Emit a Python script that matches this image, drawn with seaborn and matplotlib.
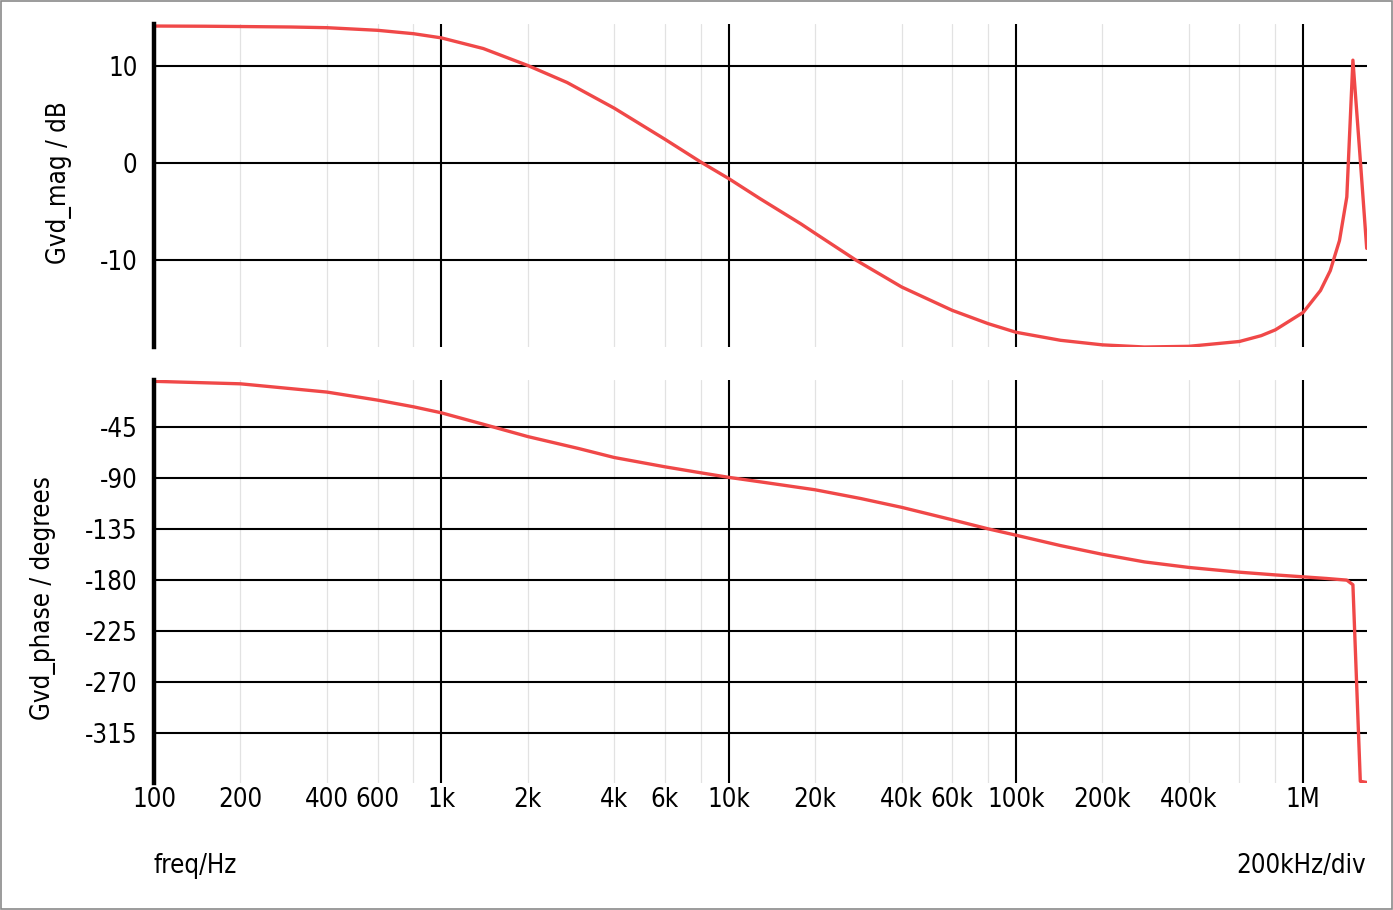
import numpy as np
import pandas as pd
import matplotlib
matplotlib.use("Agg")
import matplotlib.pyplot as plt
import matplotlib.ticker as mticker
import seaborn as sns

# ---- data ----
mag_freq_hz = [100, 150, 200, 300, 400, 600, 800, 1000, 1400, 2000, 2740, 4000, 6000, 8000,
               10e3, 12.9e3, 17.9e3, 20e3, 27.7e3, 40e3, 60e3, 80e3, 100e3, 143e3, 200e3,
               280e3, 400e3, 600e3, 714e3, 800e3, 1.0e6, 1.148e6, 1.242e6, 1.273e6,
               1.337e6, 1.418e6, 1.489e6, 1.58e6, 1.663e6]
mag_db = [14.12, 14.1, 14.07, 14.02, 13.95, 13.68, 13.33, 12.9, 11.8, 10.05, 8.3, 5.65, 2.45, 0.1,
          -1.6, -3.7, -6.3, -7.25, -10.0, -12.78, -15.19, -16.56, -17.45, -18.28, -18.75,
          -18.97, -18.9, -18.4, -17.8, -17.2, -15.4, -13.15, -11.1, -10.05,
          -8.0, -3.5, 10.6, 0.3, -8.8]

phase_freq_hz = [100, 200, 400, 600, 800, 1000, 1530, 2000, 3000, 4000, 6000, 8000,
                 10e3, 12.9e3, 20e3, 28.8e3, 40e3, 60e3, 80e3, 100e3, 143e3, 200e3, 280e3,
                 400e3, 600e3, 800e3, 1.0e6, 1.2e6, 1.418e6, 1.489e6, 1.58e6, 1.663e6]
phase_deg = [-4.7, -6.9, -14.2, -21.3, -27.2, -32.5, -45.3, -53.5, -64.0, -72.0, -80.2, -85.5,
             -89.5, -93.5, -100.5, -108.2, -116.0, -127.0, -135.0, -140.6, -149.8, -157.5, -164.2,
             -169.1, -173.3, -175.7, -177.4, -178.8, -180.3, -184.4, -358.0, -359.0]

x_tick_values = [100, 200, 400, 600, 1e3, 2e3, 4e3, 6e3, 1e4, 2e4, 4e4, 6e4, 1e5, 2e5, 4e5, 1e6]
x_tick_labels = ["100", "200", "400", "600", "1k", "2k", "4k", "6k", "10k", "20k", "40k",
                 "60k", "100k", "200k", "400k", "1M"]
mag_ticks = [-10, 0, 10]
phase_ticks = [-315, -270, -225, -180, -135, -90, -45]

mag_df = pd.DataFrame({"freq": mag_freq_hz, "mag": mag_db})
phase_df = pd.DataFrame({"freq": phase_freq_hz, "phase": phase_deg})

# ---- style ----
sns.set_style("white")
plt.rcParams["font.family"] = ["DejaVu Sans"]
plt.rcParams["font.stretch"] = "condensed"
plt.rcParams["font.size"] = 18.5
plt.rcParams["text.color"] = "black"
plt.rcParams["axes.labelcolor"] = "black"
plt.rcParams["xtick.color"] = "black"
plt.rcParams["ytick.color"] = "black"
FS = 18.5

W, H = 1393, 910
fig = plt.figure(figsize=(W / 100, H / 100), dpi=100)
left = 154 / W
width = (1367 - 154) / W
ax1 = fig.add_axes([left, 1 - 347 / H, width, (347 - 24) / H])
ax2 = fig.add_axes([left, 1 - 783 / H, width, (783 - 380) / H])

red = "#f04848"
sns.lineplot(data=mag_df, x="freq", y="mag", ax=ax1, color=red, linewidth=2.4, sort=False)
sns.lineplot(data=phase_df, x="freq", y="phase", ax=ax2, color=red, linewidth=2.4, sort=False)

xmin, xmax = 100, 1.667e6
minor_vals = [m * 10 ** e for e in range(2, 7) for m in (2, 4, 6, 8)]
major_vals = [10 ** e for e in range(2, 7)]

for ax in (ax1, ax2):
    ax.set_xscale("log")
    ax.set_xlim(xmin, xmax)
    ax.xaxis.set_major_locator(mticker.FixedLocator(major_vals))
    ax.xaxis.set_minor_locator(mticker.FixedLocator(minor_vals))
    ax.grid(which="major", axis="both", color="black", linewidth=1.5)
    ax.grid(which="minor", axis="x", color="#e2e2e2", linewidth=0.9)
    ax.set_axisbelow(True)
    for s in ("top", "right", "bottom"):
        ax.spines[s].set_visible(False)
    ax.spines["left"].set_linewidth(3.2)
    ax.spines["left"].set_color("black")
    ax.spines["left"].set_zorder(5)
    ax.tick_params(axis="both", which="both", length=0)
    ax.tick_params(axis="y", pad=12, labelsize=FS)
    ax.set_xlabel("")
    ax.set_facecolor("white")

ax1.set_ylim(-18.97, 14.33)
ax1.set_yticks(mag_ticks)
ax1.set_yticklabels([str(v) for v in mag_ticks])
ax1.tick_params(axis="x", which="both", labelbottom=False)
ax1.set_ylabel("Gvd_mag / dB", fontsize=FS)
ax1.yaxis.set_label_coords((72 - 154) / (1367 - 154), 0.51)

ax2.set_ylim(-359.5, -3.53)
ax2.set_yticks(phase_ticks)
ax2.set_yticklabels([str(v) for v in phase_ticks])
label_map = dict(zip(x_tick_values, x_tick_labels))

def fmt(v, pos):
    for k, lab in label_map.items():
        if abs(v - k) / k < 1e-6:
            return lab
    return ""

ax2.xaxis.set_major_formatter(mticker.FuncFormatter(fmt))
ax2.xaxis.set_minor_formatter(mticker.FuncFormatter(fmt))
ax2.tick_params(axis="x", which="both", pad=3, labelsize=FS)
ax2.set_ylabel("Gvd_phase / degrees", fontsize=FS)
ax2.yaxis.set_label_coords((56 - 154) / (1367 - 154), 0.46)

fig.text(154 / W, 1 - 866 / H, "freq/Hz", ha="left", va="center", fontsize=FS)
fig.text(1366 / W, 1 - 866 / H, "200kHz/div", ha="right", va="center", fontsize=FS)

# figure frame
fig.patches.append(plt.Rectangle((0.0005, 0.0008), 0.999, 0.9985, transform=fig.transFigure,
                                 fill=False, edgecolor="#8a8a8a", linewidth=1.2))

fig.savefig("out.png", dpi=100, facecolor="white")
